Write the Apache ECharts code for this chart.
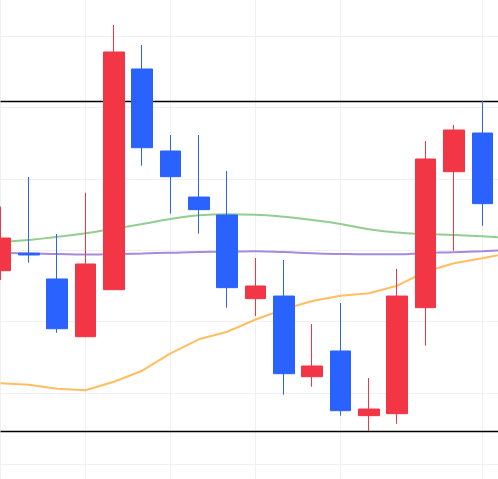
<!DOCTYPE html>
<html>
  <head>
    <meta charset="utf-8" />
    <title>Candles</title>
    <script src="https://cdn.jsdelivr.net/npm/echarts@6/dist/echarts.min.js"></script>
    <style>
      html, body { margin: 0; padding: 0; background: #fff; }
      #chart { width: 498px; height: 479px; }
    </style>
  </head>
  <body>
    <div id="chart"></div>
    <script type="text/javascript">
      // categories (days), last one sits just past the right edge
      var days = ['D01', 'D02', 'D03', 'D04', 'D05', 'D06', 'D07', 'D08', 'D09', 'D10',
                  'D11', 'D12', 'D13', 'D14', 'D15', 'D16', 'D17', 'D18', 'D19'];

      var open  = [47.12, 49.56, 45.96, 37.87, 44.46, 75.38, 63.89, 57.44, 54.92, 43.20,
                   43.57, 32.27, 35.87, 26.81, 27.09, 41.94, 60.99, 66.41, 56.50];
      var close = [51.70, 49.32, 38.99, 48.06, 77.76, 64.35, 60.29, 55.67, 44.74, 44.98,
                   32.69, 33.77, 27.51, 27.74, 43.57, 62.77, 66.83, 56.51, 58.00];
      var low   = [45.82, 48.24, 38.43, 37.87, 44.46, 61.83, 55.11, 52.30, 41.94, 40.77,
                   29.75, 30.87, 26.81, 24.66, 25.68, 36.61, 49.92, 53.42, 55.00];
      var high  = [56.09, 60.25, 52.26, 58.05, 81.54, 78.74, 66.13, 66.13, 61.09, 48.90,
                   48.62, 39.65, 42.59, 32.09, 47.36, 65.29, 67.53, 70.89, 60.00];

      // moving averages
      var maGreen  = [51.18, 51.42, 51.88, 52.36, 53.00, 53.66, 54.36, 54.88, 55.02, 54.97,
                      54.69, 54.22, 53.66, 52.92, 52.47, 52.26, 52.12, 51.94, 51.70];
      var maPurple = [49.60, 49.56, 49.46, 49.39, 49.43, 49.53, 49.64, 49.74, 49.78, 49.84,
                      49.74, 49.56, 49.46, 49.42, 49.43, 49.60, 49.70, 49.84, 50.02];
      var maOrange = [31.34, 31.15, 30.59, 30.36, 31.57, 33.11, 35.55, 37.51, 38.57, 40.28,
                      41.71, 42.87, 43.62, 43.95, 45.02, 46.98, 48.16, 48.86, 49.61];

      // horizontal reference lines
      var refLevels = [70.89, 24.66];
      // categories that carry a vertical grid line
      var gridDays = [0, 3, 6, 9, 12, 17];

      var candles = days.map(function (d, i) {
        return [open[i], close[i], low[i], high[i]];
      });

      function maSeries(name, data, color, smooth) {
        return {
          name: name,
          type: 'line',
          data: data,
          smooth: smooth,
          showSymbol: false,
          silent: true,
          lineStyle: { color: color, width: 2, opacity: 0.85 },
          z: 1
        };
      }

      var chart = echarts.init(document.getElementById('chart'));
      chart.setOption({
        animation: false,
        backgroundColor: '#ffffff',
        grid: {
          left: 0.5, right: -12.6, top: -35.38, bottom: -56.66,
          containLabel: false,
          outerBoundsMode: 'none'
        },
        xAxis: {
          type: 'category',
          data: days,
          boundaryGap: false,
          axisLine: { show: false },
          axisTick: { show: false },
          axisLabel: { show: false },
          splitLine: {
            show: true,
            interval: function (idx) { return gridDays.indexOf(idx) >= 0; },
            lineStyle: { color: '#f0f0f0', width: 1 }
          }
        },
        yAxis: {
          type: 'value',
          min: 10,
          max: 90,
          interval: 10,
          axisLine: { show: false },
          axisTick: { show: false },
          axisLabel: { show: false },
          splitLine: { lineStyle: { color: '#f0f0f0', width: 1 } }
        },
        series: [
          maSeries('MA green', maGreen, '#7fc47f', true),
          maSeries('MA purple', maPurple, '#9478d2', true),
          maSeries('MA orange', maOrange, '#ffb347', false),
          {
            name: 'price',
            type: 'candlestick',
            data: candles,
            barWidth: 21,
            z: 2,
            itemStyle: {
              color: '#f23645',
              color0: '#2962ff',
              borderColor: '#f23645',
              borderColor0: '#2962ff',
              borderWidth: 1
            },
            markLine: {
              z: 1,
              silent: true,
              symbol: 'none',
              label: { show: false },
              lineStyle: { color: '#000000', width: 1.3, type: 'solid' },
              data: refLevels.map(function (v) { return { yAxis: v }; })
            }
          }
        ]
      });
    </script>
  </body>
</html>
